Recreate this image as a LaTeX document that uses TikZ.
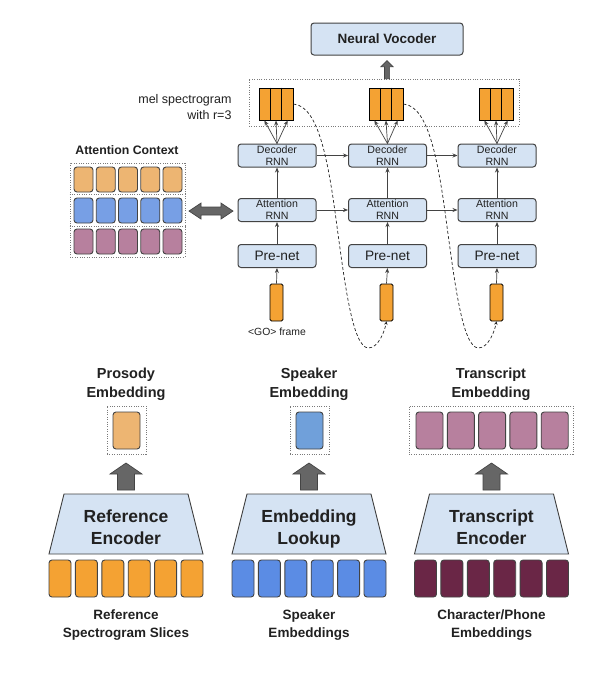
\documentclass[tikz,border=0pt]{standalone}
\usepackage{fontspec}
\setmainfont{Liberation Sans}
\usetikzlibrary{arrows.meta,calc}
\definecolor{boxfill}{HTML}{D5E3F3}
\definecolor{boxline}{HTML}{434343}
\definecolor{txt}{HTML}{212121}
\definecolor{melor}{HTML}{F4A233}
\definecolor{orL}{HTML}{EDB572}
\definecolor{blL}{HTML}{779FE5}
\definecolor{blS}{HTML}{70A0DA}
\definecolor{blD}{HTML}{5B8CE4}
\definecolor{mauve}{HTML}{B7809E}
\definecolor{maroon}{HTML}{6A2646}
\definecolor{fatfill}{HTML}{666666}
\definecolor{fatline}{HTML}{444444}
\definecolor{dotgray}{HTML}{7A7A7A}
\newcommand{\myfatup}[5]{%
 \draw[fat] (#1) ++({-(#3)},0) -- ++(0,{-(#2-#5)}) -- ++({-(#4-#3)},0) -- ++({#4},{-(#5)}) -- ++({#4},{#5}) -- ++({-(#4-#3)},0) -- ++(0,{#2-#5}) -- cycle;}
\begin{document}
\begin{tikzpicture}[x=1pt,y=-1pt,
  rnnbox/.style={draw=boxline, fill=boxfill, rounded corners=3pt, line width=1pt, minimum width=78pt, minimum height=23pt, inner sep=0pt, align=center, text=txt},
  small/.style={font=\fontsize{10.6pt}{12pt}\selectfont},
  cell/.style={draw=boxline, rounded corners=3pt, line width=0.9pt, inner sep=0pt},
  dotbox/.style={draw=dotgray, line width=0.7pt, dash pattern=on 1pt off 1.4pt},
  arr/.style={-{Stealth[length=5pt,width=4pt]}, draw=boxline, line width=0.7pt},
  fat/.style={fill=fatfill, draw=fatline, line width=0.7pt},
  trap/.style={fill=boxfill, draw=boxline, line width=0.9pt},
  mel/.style={draw=black, fill=melor, line width=0.9pt, minimum width=34pt, minimum height=32pt, inner sep=0pt},
  title/.style={font=\fontsize{14.5pt}{19pt}\selectfont\bfseries, text=txt, align=center},
  encl/.style={font=\fontsize{17.5pt}{22pt}\selectfont\bfseries, text=txt, align=center},
  bottoml/.style={font=\fontsize{13.5pt}{18pt}\selectfont\bfseries, text=txt, align=center}
]
\fill[white] (0,0) rectangle (600,673);
\useasboundingbox (0,0) rectangle (600,673);

% ---------- top: decoder ----------
\node[rnnbox, minimum width=152pt, minimum height=32pt, font=\fontsize{13.5pt}{16pt}\selectfont\bfseries] (voc) at (387,39) {Neural Vocoder};
\node[dotbox, minimum width=270pt, minimum height=47pt, inner sep=0pt] (melbox) at (384,102.5) {};
\coordinate (va) at (melbox.north -| voc.south);
\myfatup{va}{18}{2.6}{6}{6}

\node[anchor=east, align=right, text=txt, font=\fontsize{12.5pt}{15.5pt}\selectfont] (mellbl) at (235,107) {mel spectrogram\\with r=3};

\foreach \k/\x in {1/276,2/386,3/496}{
  \node[mel] (m\k) at (\x,104) {};
  \draw[line width=0.9pt] ($(m\k.north west)!1/3!(m\k.north east)$) -- ($(m\k.south west)!1/3!(m\k.south east)$);
  \draw[line width=0.9pt] ($(m\k.north west)!2/3!(m\k.north east)$) -- ($(m\k.south west)!2/3!(m\k.south east)$);
}
\foreach \k/\x in {1/277,2/387.5,3/497}{
  \node[rnnbox, small] (d\k) at (\x,155.5) {Decoder\\RNN};
  \node[rnnbox, small] (a\k) at (\x,210) {Attention\\RNN};
  \node[rnnbox, font=\fontsize{13.7pt}{16pt}\selectfont] (p\k) at (\x,256) {Pre-net};
}
\foreach \k/\x in {1/276.5,2/386.5,3/496.5}{
  \node[draw=black, fill=melor, rounded corners=1.5pt, line width=0.8pt, minimum width=13pt, minimum height=37pt, inner sep=0pt] (g\k) at (\x,302.5) {};
}
\node[text=txt, font=\fontsize{10.4pt}{12pt}\selectfont] (golbl) at (277,332) {<GO> frame};

\foreach \k in {1,2,3}{
  \draw[arr] (g\k.north) -- (p\k.south);
  \draw[arr] (p\k.north) -- (a\k.south);
  \draw[arr] (a\k.north) -- (d\k.south);
  \draw[arr] (d\k.north) -- ($(m\k.south west)!1/6!(m\k.south east)$);
  \draw[arr] (d\k.north) -- ($(m\k.south west)!1/2!(m\k.south east)$);
  \draw[arr] (d\k.north) -- ($(m\k.south west)!5/6!(m\k.south east)$);
}
\draw[arr] (d1.east) -- (d2.west);
\draw[arr] (d2.east) -- (d3.west);
\draw[arr] (a1.east) -- (a2.west);
\draw[arr] (a2.east) -- (a3.west);

% dashed feedback curves
\foreach \k/\n in {1/2,2/3}{
  \draw[draw=black!85, line width=0.7pt, dash pattern=on 3pt off 2.2pt, -{Stealth[length=3.5pt,width=3.5pt]}]
    (m\k.east) .. controls ($(m\k.east)+(25,2)$) and ($(m\k.east)+(35,56)$) .. ($(m\k.east)+(44,126)$)
    .. controls ($(m\k.east)+(51,176)$) and ($(m\k.east)+(59,244)$) .. ($(m\k.east)+(75,244)$)
    .. controls ($(m\k.east)+(85,244)$) and ($(g\n.south)+(-2,10)$) .. (g\n.south);
}

% ---------- attention context ----------
\node[title, font=\fontsize{12.3pt}{15pt}\selectfont\bfseries] (ctxlbl) at (127,150) {Attention Context};
\node[dotbox, minimum width=115pt, minimum height=94pt, inner sep=0pt] (ctx) at (127.5,210) {};
\draw[dotbox] (ctx.west |- 0,194.5) -- (ctx.east |- 0,194.5);
\draw[dotbox] (ctx.west |- 0,226) -- (ctx.east |- 0,226);
\foreach \i in {0,...,4}{
  \node[cell, fill=orL, minimum width=19pt, minimum height=25pt] (ca\i) at ({83.5+22.25*\i},179.5) {};
  \node[cell, fill=blL, minimum width=19pt, minimum height=25pt] (cb\i) at ({83.5+22.25*\i},210.5) {};
  \node[cell, fill=mauve, minimum width=19pt, minimum height=25pt] (cc\i) at ({83.5+22.25*\i},241.5) {};
}
\draw[fat] (189,211) -- (201,203) -- (201,207) -- (221,207) -- (221,203) -- (233,211) -- (221,219) -- (221,215) -- (201,215) -- (201,219) -- cycle;

% ---------- bottom: embeddings ----------
\node[title] (tpro) at (126,384) {Prosody\\Embedding};
\node[title] (tspk) at (309,384) {Speaker\\Embedding};
\node[title] (ttra) at (491,384) {Transcript\\Embedding};

\node[dotbox, minimum width=39pt, minimum height=48pt, inner sep=0pt] (bpro) at (126.5,430) {};
\node[dotbox, minimum width=39pt, minimum height=48pt, inner sep=0pt] (bspk) at (309.5,430) {};
\node[dotbox, minimum width=164pt, minimum height=48pt, inner sep=0pt] (btra) at (491,430) {};
\node[cell, fill=orL, minimum width=27pt, minimum height=37pt] (epro) at (126.5,430.5) {};
\node[cell, fill=blS, minimum width=27pt, minimum height=37pt] (espk) at (309.5,430.5) {};
\foreach \i in {0,...,4}{
  \node[cell, fill=mauve, minimum width=27pt, minimum height=37pt] (etr\i) at ({429.5+31.3*\i},430.5) {};
}

\coordinate (fa1) at (126,490);
\coordinate (fa2) at (309,490);
\coordinate (fa3) at (491.5,490);
\myfatup{fa1}{27}{8.5}{16}{11}
\myfatup{fa2}{27}{8.5}{16}{11}
\myfatup{fa3}{27}{8.5}{16}{11}

\draw[trap] (64,494) -- (188,494) -- (203,554) -- (49,554) -- cycle;
\draw[trap] (247,494) -- (371,494) -- (386,554) -- (232,554) -- cycle;
\draw[trap] (429.5,494) -- (553.5,494) -- (568.5,554) -- (414.5,554) -- cycle;
\node[encl] (ref) at (126,527) {Reference\\Encoder};
\node[encl] (lkp) at (309,529) {Embedding\\Lookup};
\node[encl] (tenc) at (491.5,527) {Transcript\\Encoder};

\foreach \i in {0,...,5}{
  \node[cell, fill=melor, minimum width=22pt, minimum height=37pt] (rs\i) at ({60+26.4*\i},578.5) {};
  \node[cell, fill=blD, minimum width=22pt, minimum height=37pt] (sp\i) at ({243+26.4*\i},578.5) {};
  \node[cell, fill=maroon, minimum width=22pt, minimum height=37pt] (ch\i) at ({425.5+26.4*\i},578.5) {};
}

\node[bottoml] (lref) at (126,625) {Reference\\Spectrogram Slices};
\node[bottoml] (lspk) at (309,625) {Speaker\\Embeddings};
\node[bottoml] (lchr) at (491.5,625) {Character/Phone\\Embeddings};
\end{tikzpicture}
\end{document}
